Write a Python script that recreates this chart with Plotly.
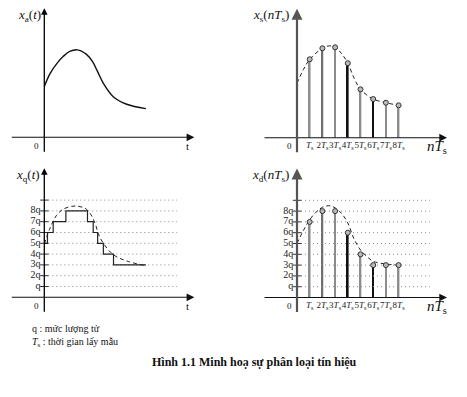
import plotly.graph_objects as go

PAGE_OFF = 8                  # browser body margin
W, H = 467 - PAGE_OFF, 397 - PAGE_OFF
SX, SY = 12.7, 10.8           # pixels per Ts and per q
SERIF = "Liberation Serif"

# ---------------- data ----------------
# analog signal x_a(t)  (t in Ts units, value in q units)
xa_t = [0, 0.45, 1.0, 1.5, 2.0, 2.6, 3.3, 3.8, 4.15, 4.65, 5.43, 6.49, 8.0]
xa_v = [4.7, 5.9, 6.85, 7.5, 7.95, 8.1, 7.7, 7.0, 6.2, 5.0, 3.76, 3.06, 2.65]

# sampled signal x_s(nTs): dashed envelope + samples
xs_env_t = [0, 0.5, 1, 2, 2.5, 3, 3.5, 4, 4.5, 5, 6, 7, 8]
xs_env_v = [5.04, 6.3, 7.26, 8.28, 8.5, 8.37, 7.8, 6.9, 5.5, 4.48, 3.58, 3.24, 3.0]
n_samples = [1, 2, 3, 4, 5, 6, 7, 8]
xs_values = [7.26, 8.28, 8.37, 6.9, 4.48, 3.58, 3.24, 3.0]

# quantized signal x_q(t): dashed envelope + staircase
xq_env_t = [0, 0.45, 0.97, 1.5, 2.42, 3.2, 3.6, 4.0, 4.25, 4.65, 5.43, 6.49, 8.0]
xq_env_v = [4.93, 6.4, 7.6, 8.17, 8.45, 8.24, 7.78, 6.85, 5.9, 5.0, 3.95, 3.36, 2.93]
xq_step_t = [0, 0.25, 0.7, 1.7, 3.4, 3.85, 4.2, 4.65, 5.45, 8.0]
xq_step_v = [5, 6, 7, 8, 7, 6, 5, 4, 3, 3]

# digital signal x_d(nTs): dashed envelope + quantized samples
xd_env_t = [0, 0.5, 1, 1.5, 2, 2.5, 3, 3.5, 4, 4.5, 5, 5.5, 6, 7, 8]
xd_env_v = [5.0, 6.2, 7.2, 7.9, 8.35, 8.5, 8.3, 7.8, 6.9, 5.4, 4.4, 3.8, 3.35, 3.1, 3.0]
xd_values = [7, 8, 8, 6, 4, 3, 3, 3]

q_levels = [1, 2, 3, 4, 5, 6, 7, 8, 9]
q_labels = ["q", "2q", "3q", "4q", "5q", "6q", "7q", "8q"]
n_labels = ["<i>T</i><sub>s</sub>"] + [f"{k}<i>T</i><sub>s</sub>" for k in n_samples[1:]]
stem_colors = ["#8c8c8c", "#6e6e6e", "#8c8c8c", "#111111", "#8c8c8c", "#111111", "#8c8c8c", "#8c8c8c"]

# ---------------- panel geometry (page pixels) ----------------
PANELS = {
    "tl": dict(orig=(44.3, 137.3), ax=("x", "y"), yline="#000", yw=1.3),
    "tr": dict(orig=(297.0, 137.7), ax=("x2", "y2"), yline="#555", yw=2.2),
    "bl": dict(orig=(44.3, 297.3), ax=("x3", "y3"), yline="#000", yw=1.3),
    "br": dict(orig=(297.0, 297.5), ax=("x4", "y4"), yline="#555", yw=2.2),
}

fig = go.Figure()


def add(trace, key):
    xa, ya = PANELS[key]["ax"]
    trace.update(xaxis=xa, yaxis=ya)
    fig.add_trace(trace)


dash = "4px,3px"

# top-left: analog
add(go.Scatter(x=xa_t, y=xa_v, mode="lines", line=dict(color="#111", width=1.4, shape="spline", smoothing=1)), "tl")

# dotted grid in bottom panels
for key in ("bl", "br"):
    for lv in q_levels:
        add(go.Scatter(x=[0, 10.45], y=[lv, lv], mode="lines",
                       line=dict(color="#8a8a8a", width=1, dash="1px,3px")), key)
    add(go.Scatter(x=[0] * len(q_levels), y=q_levels, mode="markers",
                   marker=dict(symbol="line-ew", size=6, line=dict(color="#333", width=1))), key)
    add(go.Scatter(x=[-0.3] * len(q_labels), y=q_levels[:8], mode="text", text=q_labels,
                   textposition="middle left",
                   textfont=dict(family=SERIF, size=10, color="#222")), key)

# top-right: samples
add(go.Bar(x=n_samples, y=xs_values, width=0.13, marker=dict(color=stem_colors, line=dict(width=0))), "tr")
add(go.Scatter(x=xs_env_t, y=xs_env_v, mode="lines",
               line=dict(color="#222", width=1, dash=dash, shape="spline", smoothing=1)), "tr")
add(go.Scatter(x=n_samples, y=xs_values, mode="markers",
               marker=dict(symbol="circle", size=5, color="#bbb", line=dict(color="#333", width=1))), "tr")

# bottom-left: quantized staircase
add(go.Scatter(x=xq_env_t, y=xq_env_v, mode="lines",
               line=dict(color="#222", width=1, dash=dash, shape="spline", smoothing=1)), "bl")
add(go.Scatter(x=xq_step_t, y=xq_step_v, mode="lines", line=dict(color="#222", width=1.2, shape="hv")), "bl")

# bottom-right: digital samples
add(go.Bar(x=n_samples, y=xd_values, width=0.13, marker=dict(color=stem_colors, line=dict(width=0))), "br")
add(go.Scatter(x=xd_env_t, y=xd_env_v, mode="lines",
               line=dict(color="#222", width=1, dash=dash, shape="spline", smoothing=1)), "br")
add(go.Scatter(x=n_samples, y=xd_values, mode="markers",
               marker=dict(symbol="circle", size=5, color="#bbb", line=dict(color="#333", width=1))), "br")

# n*Ts tick labels
for key in ("tr", "br"):
    add(go.Scatter(x=n_samples, y=[-0.78] * len(n_samples), mode="text", text=n_labels,
                   textposition="middle center",
                   textfont=dict(family=SERIF, size=9, color="#222")), key)

# ---------------- axes (full-paper overlay, pixel-exact) ----------------
layout_axes = {}
annotations = []
for i, key in enumerate(("tl", "tr", "bl", "br")):
    x0, y0 = PANELS[key]["orig"]
    x0 -= PAGE_OFF
    y0 -= PAGE_OFF
    sfx = "" if i == 0 else str(i + 1)
    xr = [-x0 / SX, (W - x0) / SX]
    yr = [(y0 - H) / SY, y0 / SY]
    xa = dict(range=xr, domain=[0, 1], visible=False, fixedrange=True)
    ya = dict(range=yr, domain=[0, 1], visible=False, fixedrange=True)
    if i > 0:
        xa.update(overlaying="x", anchor="y" + sfx)
        ya.update(overlaying="y", anchor="x" + sfx)
    layout_axes["xaxis" + sfx] = xa
    layout_axes["yaxis" + sfx] = ya
    xref, yref = PANELS[key]["ax"]
    # x axis arrow
    annotations.append(dict(x=150 / SX, y=0, ax=-34 / SX, ay=0, xref=xref, yref=yref,
                            axref=xref, ayref=yref, showarrow=True, arrowhead=2, arrowsize=1.4,
                            arrowwidth=1.1, arrowcolor="#111", text="", standoff=0))
    # y axis arrow
    annotations.append(dict(x=0, y=129 / SY, ax=0, ay=-16 / SY, xref=xref, yref=yref,
                            axref=xref, ayref=yref, showarrow=True, arrowhead=2, arrowsize=1.0,
                            arrowwidth=PANELS[key]["yw"], arrowcolor=PANELS[key]["yline"],
                            text="", standoff=0))


def ptext(px, py, text, size, anchor="center", color="#111"):
    annotations.append(dict(x=(px - PAGE_OFF) / W, y=1 - (py - PAGE_OFF) / H,
                            xref="paper", yref="paper", text=text,
                            showarrow=False, xanchor=anchor, yanchor="middle",
                            font=dict(family=SERIF, size=size, color=color)))


# axis titles
ptext(29.5, 16, "<i>x</i><sub>a</sub>(<i>t</i>)", 13)
ptext(270.5, 16, "<i>x</i><sub>s</sub>(<i>nT</i><sub>s</sub>)", 13)
ptext(27.5, 175, "<i>x</i><sub>q</sub>(<i>t</i>)", 13)
ptext(270, 175, "<i>x</i><sub>d</sub>(<i>nT</i><sub>s</sub>)", 13)
# origin / end labels
for px, py in ((36, 146), (289, 146), (36, 306), (289, 306)):
    ptext(px, py, "0", 9)
ptext(187.5, 146, "t", 11)
ptext(187.5, 306, "t", 11)
ptext(437, 147, "<i>nT</i><sub>s</sub>", 15)
ptext(437, 307, "<i>nT</i><sub>s</sub>", 15)
# notes & caption
ptext(30, 328, "q : mức lượng tử", 10, anchor="left")
ptext(30, 342, "<i>T</i><sub>s</sub> : thời gian lấy mẫu", 10, anchor="left")
ptext(254, 362, "<b>Hình 1.1 Minh hoạ sự phân loại tín hiệu</b>", 12)

fig.update_layout(
    width=W, height=H, margin=dict(l=0, r=0, t=0, b=0),
    paper_bgcolor="white", plot_bgcolor="rgba(0,0,0,0)",
    showlegend=False, barmode="overlay",
    annotations=annotations,
    **layout_axes,
)

fig.write_html("out.html")
